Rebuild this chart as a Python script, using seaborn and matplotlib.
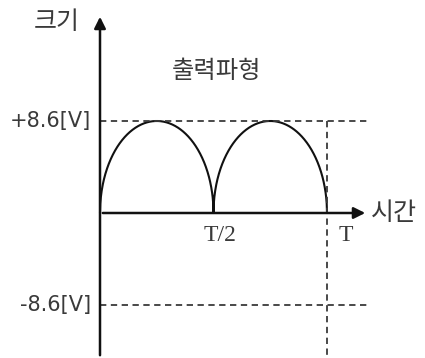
import numpy as np
import pandas as pd
import seaborn as sns
import matplotlib
matplotlib.use("Agg")
import matplotlib.pyplot as plt

# Data
peak_v = 8.6
period = 1.0
level_labels = ["+8.6[V]", "-8.6[V]"]
tick_labels = ["T/2", "T"]
title_text = "출력파형"
y_label = "크기"
x_label = "시간"

# full-wave rectified output, drawn as two half-arcs (as in the reference sketch)
half = period / 2
t = np.linspace(0, period, 801)
phase = (t % half) / half
phase[-1] = 1.0
v = peak_v * np.sqrt(np.clip(1 - (2 * phase - 1) ** 2, 0, None))
wave = pd.DataFrame({"t": t, "v": v})

sns.set_theme(style="white")
plt.rcParams['font.family'] = ['Noto Sans CJK KR', 'DejaVu Sans']

fig = plt.figure(figsize=(4.25, 3.58), dpi=100)
ax = fig.add_axes([0, 0, 1, 1])
ax.set_axis_off()

# pixel mapping: x0=100, T at 327; baseline y=213, peak y=120
sx = 227.0
sy = 92.0 / peak_v
ax.set_xlim(-100 / sx, 325 / sx)
ax.set_ylim(-(358 - 213) / sy, 213 / sy)

line_col = "#111111"
dash_col = "#3a3a3a"
txt_col = "#3a3a3a"

sns.lineplot(data=wave, x="t", y="v", ax=ax, color=line_col, lw=1.5, sort=False)
ax.set_xlabel("")
ax.set_ylabel("")

# dashed reference lines
dash = (0, (3.5, 2.5))
ax.plot([0, 268 / sx], [peak_v, peak_v], ls=dash, color=dash_col, lw=1.3)
ax.plot([0, 268 / sx], [-peak_v, -peak_v], ls=dash, color=dash_col, lw=1.3)
ax.plot([period, period], [peak_v, -(358 - 213) / sy], ls=dash, color=dash_col, lw=1.3)

# axes with arrows
ax.annotate("", xy=(0, (213 - 14) / sy), xytext=(0, -(358 - 213) / sy),
            arrowprops=dict(arrowstyle="-|>", color=line_col, lw=1.8, mutation_scale=17))
ax.annotate("", xy=(268 / sx, 0), xytext=(0, 0),
            arrowprops=dict(arrowstyle="-|>", color=line_col, lw=1.8, mutation_scale=17))

# texts
ax.text(-9 / sx, peak_v, level_labels[0], ha="right", va="center", fontsize=15,
        color=txt_col, family=["DejaVu Sans"])
ax.text(-9 / sx, -peak_v, level_labels[1], ha="right", va="center", fontsize=15,
        color=txt_col, family=["DejaVu Sans"])
ax.text(period / 2 + 7 / sx, -12 / sy, tick_labels[0], ha="center", va="top", fontsize=17,
        color=txt_col, family=["Liberation Serif"])
ax.text(period + 19 / sx, -12 / sy, tick_labels[1], ha="center", va="top", fontsize=17,
        color=txt_col, family=["Liberation Serif"])
ax.text(271 / sx, 0, x_label, ha="left", va="center", fontsize=18, color=txt_col)
ax.text(-20 / sx, (213 - 22) / sy, y_label, ha="right", va="center", fontsize=18, color=txt_col)
ax.text(117 / sx, (213 - 71) / sy, title_text, ha="center", va="center", fontsize=17.5, color=txt_col)

fig.savefig("out.png", dpi=100)
